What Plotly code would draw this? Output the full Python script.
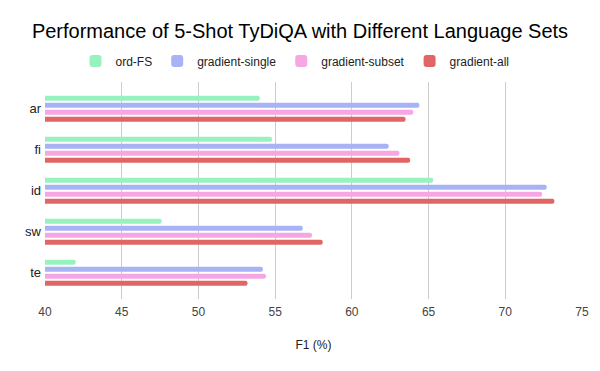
import plotly.graph_objects as go

languages = ["ar", "fi", "id", "sw", "te"]
series_names = ["ord-FS", "gradient-single", "gradient-subset", "gradient-all"]
ord_fs = [54.0, 54.8, 65.3, 47.6, 42.0]
gradient_single = [64.4, 62.4, 72.7, 56.8, 54.2]
gradient_subset = [64.0, 63.1, 72.4, 57.4, 54.4]
gradient_all = [63.5, 63.8, 73.2, 58.1, 53.2]
colors = ["#98F2BF", "#A7B3F5", "#F7A6E4", "#E06666"]
x_ticks = [40, 45, 50, 55, 60, 65, 70, 75]

fig = go.Figure()
for name, vals, col in zip(series_names, [ord_fs, gradient_single, gradient_subset, gradient_all], colors):
    fig.add_trace(go.Bar(y=languages, x=vals, name=name, orientation="h",
                         marker=dict(color=col, line=dict(width=0))))

W, H = 592, 363
fig.update_layout(
    width=W, height=H,
    paper_bgcolor="white", plot_bgcolor="white",
    font=dict(family="Liberation Sans, Arial, sans-serif", color="#222222"),
    title=dict(text="Performance of 5-Shot TyDiQA with Different Language Sets",
               x=292 / W, xref="container", xanchor="center",
               y=1 - 23 / H, yref="container", yanchor="middle",
               font=dict(size=20, color="#000000")),
    legend=dict(orientation="h", x=287 / W, xref="container", xanchor="center",
                y=1 - 53 / H, yref="container", yanchor="middle",
                font=dict(size=12, color="#222222"), traceorder="normal"),
    barmode="group", bargap=0.32, bargroupgap=0.28, barcornerradius=2,
    margin=dict(l=37, r=18, t=74, b=72, autoexpand=False),
    xaxis=dict(range=[40, 75], tickvals=x_ticks, showgrid=True, gridcolor="#cccccc",
               gridwidth=1, zeroline=False, showline=False, automargin=False,
               tickfont=dict(size=12, color="#444444"), ticks="", ticklabelstandoff=4,
               title=dict(text="F1 (%)", font=dict(size=12, color="#222222"), standoff=22)),
    yaxis=dict(range=[4.64, -0.654], showgrid=False, zeroline=False, showline=False,
               ticks="", ticklabelstandoff=3, automargin=False,
               tickfont=dict(size=13, color="#222222")),
)

fig.write_html("out.html")
